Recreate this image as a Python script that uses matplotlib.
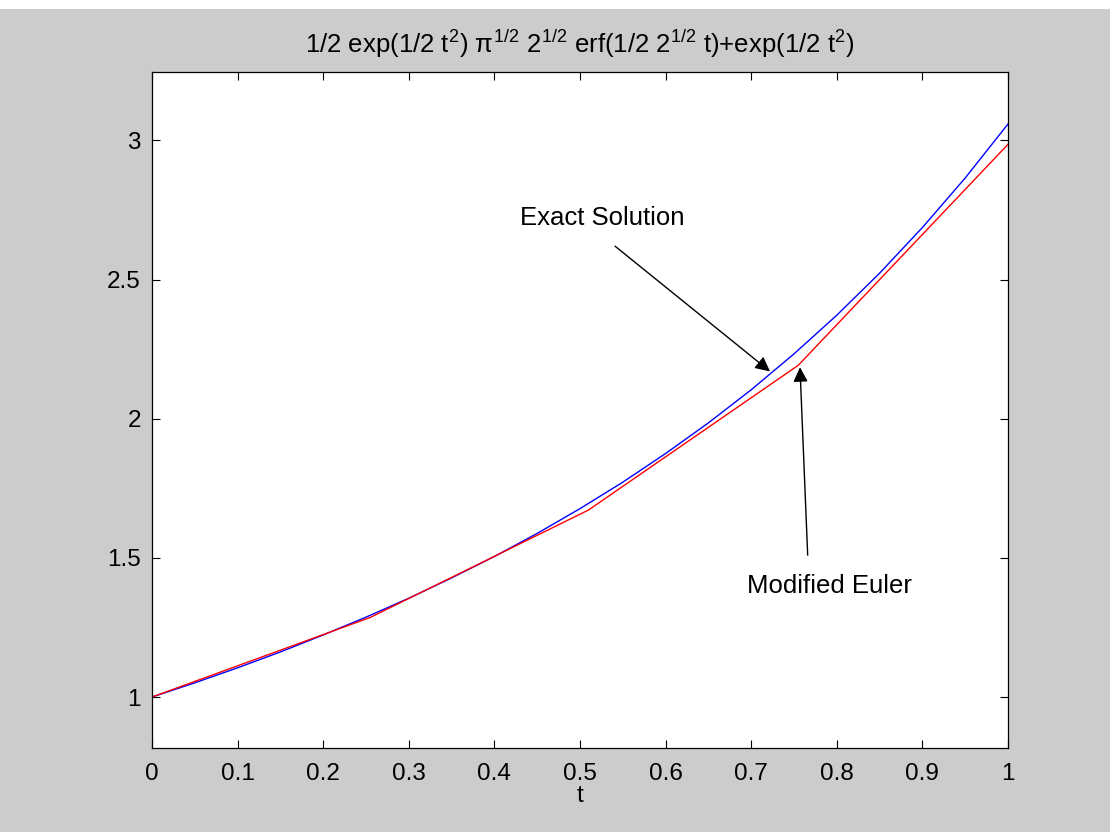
import matplotlib.pyplot as plt
from matplotlib.patches import Rectangle

# exact solution
t_exact = [0.0, 0.05, 0.1, 0.15, 0.2, 0.25, 0.3, 0.35, 0.4, 0.45, 0.5,
           0.55, 0.6, 0.65, 0.7, 0.75, 0.8, 0.85, 0.9, 0.95, 1.0]
y_exact = [1.000, 1.051, 1.105, 1.162, 1.223, 1.287, 1.355, 1.428, 1.505, 1.588, 1.677,
           1.772, 1.875, 1.985, 2.104, 2.233, 2.372, 2.523, 2.687, 2.865, 3.059]

# modified Euler steps (red), kinks as seen in the picture
t_euler = [0.0, 0.255, 0.51, 0.755, 1.0]
y_euler = [1.000, 1.286, 1.672, 2.192, 2.986]

x_ticks = [0, 0.1, 0.2, 0.3, 0.4, 0.5, 0.6, 0.7, 0.8, 0.9, 1]
x_labels = ['0', '0.1', '0.2', '0.3', '0.4', '0.5', '0.6', '0.7', '0.8', '0.9', '1']
y_ticks = [1, 1.5, 2, 2.5, 3]
y_labels = ['1', '1.5', '2', '2.5', '3']

title = (r'1/2 exp(1/2 t$^{2}$) $\pi^{1/2}$ 2$^{1/2}$ erf(1/2 2$^{1/2}$ t)'
         r'+exp(1/2 t$^{2}$)')

plt.rcParams['font.family'] = ['Liberation Sans', 'DejaVu Sans']
plt.rcParams['mathtext.fontset'] = 'custom'
plt.rcParams['mathtext.rm'] = 'Liberation Sans'
plt.rcParams['mathtext.it'] = 'Liberation Sans'

fig = plt.figure(figsize=(11.1, 8.32), dpi=100, facecolor='#cccccc')
fig.patches.append(Rectangle((0, 1 - 9 / 832), 1, 9 / 832, transform=fig.transFigure,
                             facecolor='white', edgecolor='none'))
ax = fig.add_axes([0.1369, 0.1010, 0.7712, 0.8125])

ax.plot(t_exact, y_exact, color='blue', lw=1.0)
ax.plot(t_euler, y_euler, color='red', lw=1.0)

ax.set_xlim(0, 1)
ax.set_ylim(0.817, 3.246)
ax.set_xticks(x_ticks)
ax.set_xticklabels(x_labels)
ax.set_yticks(y_ticks)
ax.set_yticklabels(y_labels)
ax.tick_params(direction='in', top=True, right=True, length=6, width=0.8,
               labelsize=17.5, pad=8)
ax.tick_params(axis='x', pad=11)
for s in ax.spines.values():
    s.set_linewidth(0.9)

ax.set_xlabel('t', fontsize=17.5, labelpad=0)
ax.set_title(title, fontsize=18.5, pad=14)

arrow = dict(arrowstyle='-|>', color='black', lw=1.0, mutation_scale=22,
             shrinkA=0, shrinkB=0)
ax.annotate('', xy=(0.722, 2.17), xytext=(0.541, 2.62), arrowprops=arrow)
ax.text(0.43, 2.72, 'Exact Solution', fontsize=18.5, va='center', ha='left')
ax.annotate('', xy=(0.757, 2.185), xytext=(0.766, 1.51), arrowprops=arrow)
ax.text(0.695, 1.40, 'Modified Euler', fontsize=18.5, va='center', ha='left')

fig.savefig('out.png', dpi=100, facecolor=fig.get_facecolor())
